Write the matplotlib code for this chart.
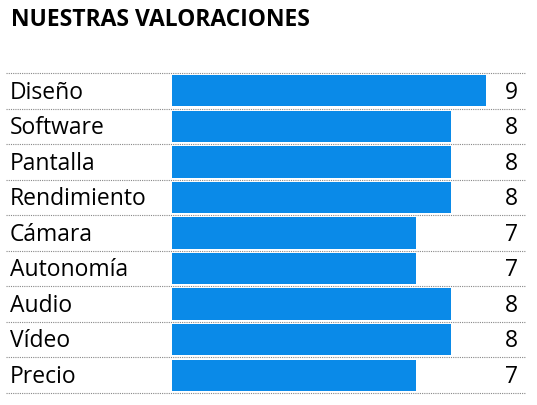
import matplotlib
matplotlib.use("Agg")
import matplotlib.pyplot as plt
from matplotlib.transforms import blended_transform_factory

categories = ["Diseño", "Software", "Pantalla", "Rendimiento", "Cámara",
              "Autonomía", "Audio", "Vídeo", "Precio"]
values = [9, 8, 8, 8, 7, 7, 8, 8, 7]

plt.rcParams['font.family'] = ['Open Sans', 'DejaVu Sans']
W, H = 537, 405
fig = plt.figure(figsize=(W/100, H/100), dpi=100)
top, bot = 73, 393
ax = fig.add_axes([172/W, (H-bot)/H, 349/W, (bot-top)/H])
ax.set_xlim(0, 10)
ax.set_ylim(len(categories), 0)
ax.axis('off')
ys = [i + 0.5 for i in range(len(categories))]
ax.barh(ys, values, height=0.88, color='#0A8AE8')

tr = blended_transform_factory(fig.transFigure, ax.transData)
for y, c, v in zip(ys, categories, values):
    ax.text(10/W, y + 0.05, c, transform=tr, ha='left', va='center', fontsize=16.5, color='black')
    ax.text(518/W, y + 0.05, str(v), transform=tr, ha='right', va='center', fontsize=16.5, color='black')
for i in range(len(categories) + 1):
    ax.plot([6/W, 525/W], [i, i], transform=tr, color='#888888', lw=0.8,
            linestyle=(0, (1, 1)), clip_on=False)

fig.text(11/W, 1 - 20/H, "NUESTRAS VALORACIONES", ha='left', va='center',
         fontsize=16.5, fontweight='bold', color='black')
fig.savefig("out.png", dpi=100, facecolor='white')
